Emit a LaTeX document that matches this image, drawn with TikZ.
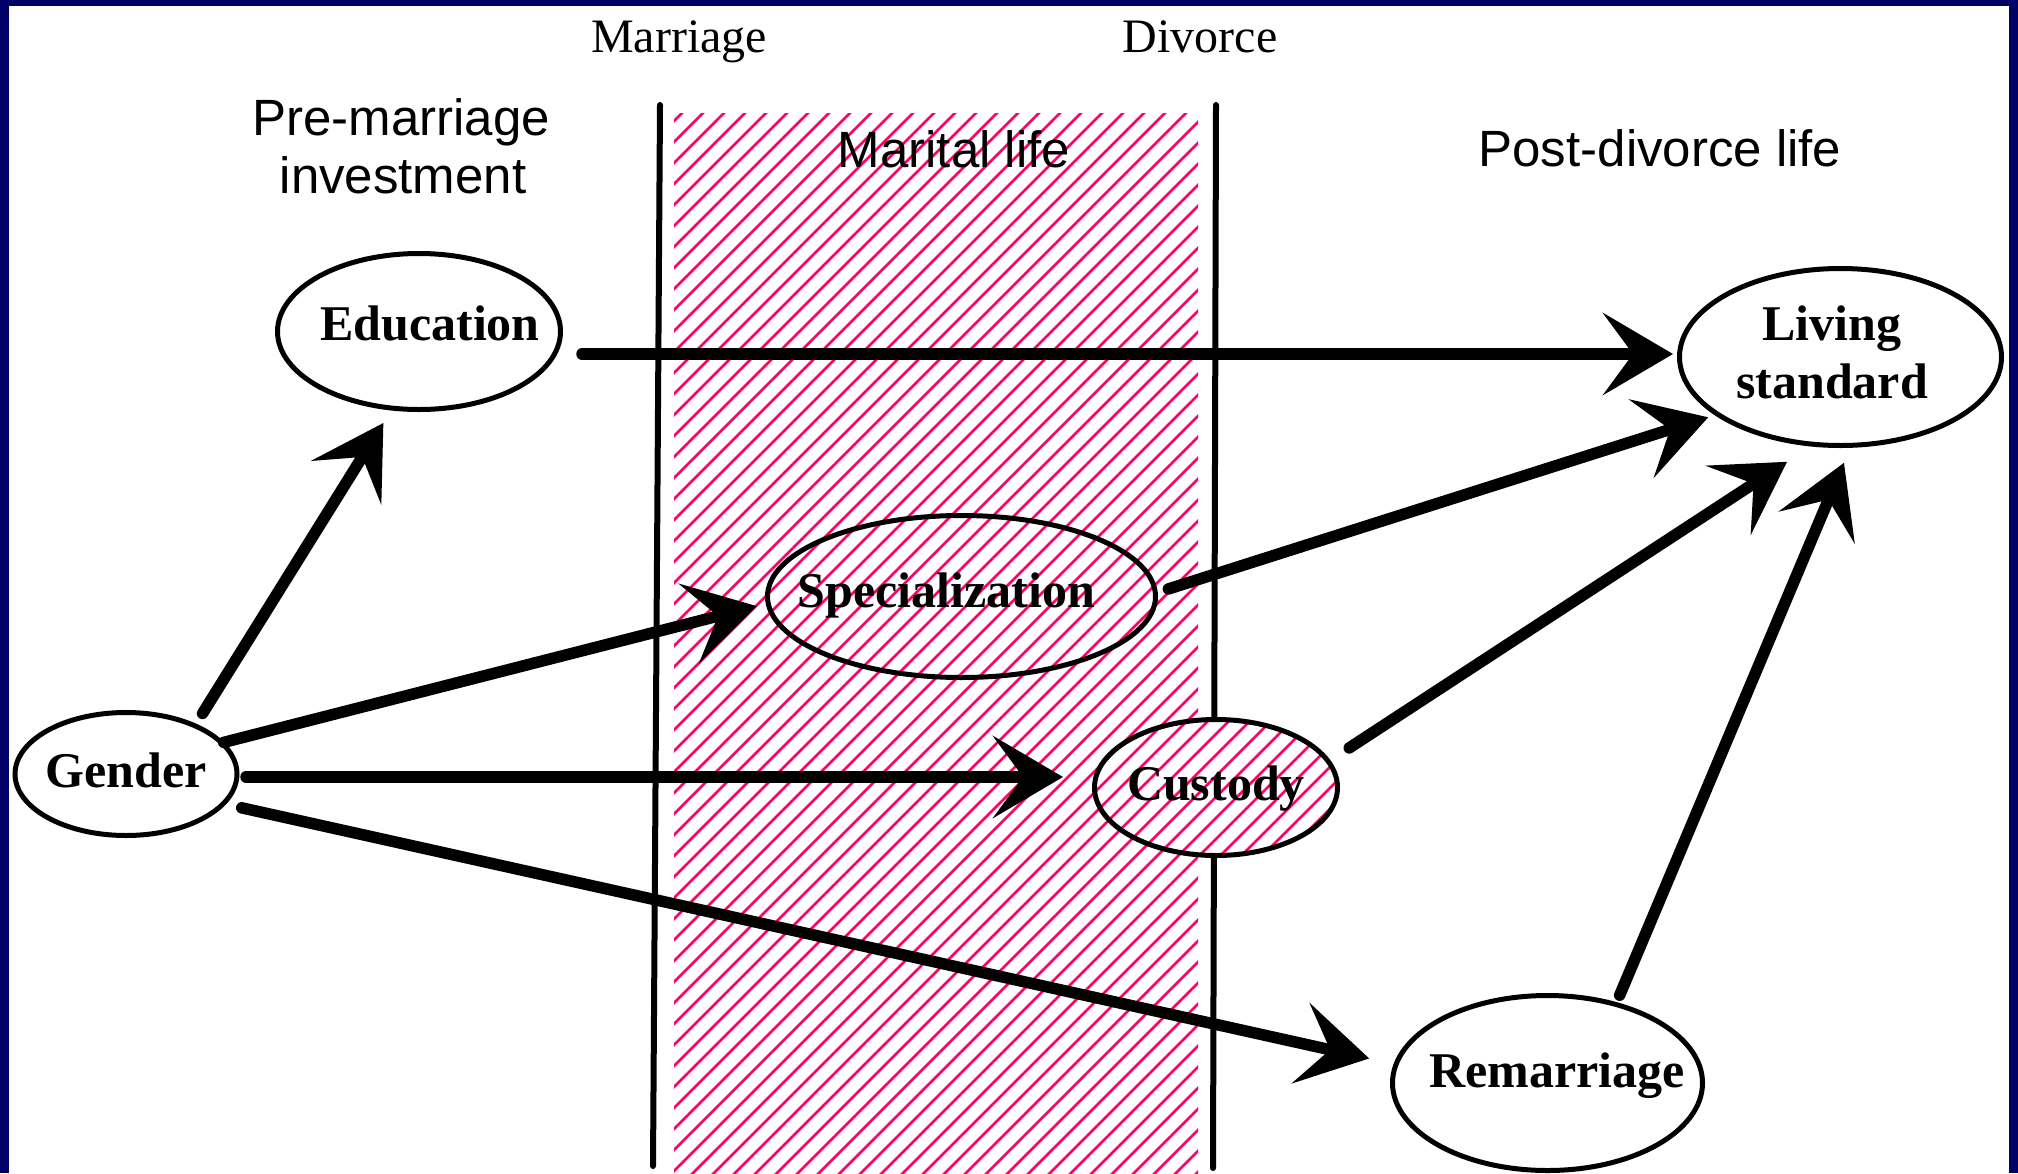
\documentclass[tikz,border=0pt]{standalone}
\usepackage{fontspec}
\setmainfont{Liberation Serif}
\setsansfont{Liberation Sans}
\usetikzlibrary{shapes.geometric,arrows.meta,patterns.meta,calc}
\definecolor{navy}{RGB}{0,0,102}
\definecolor{hatchpink}{RGB}{255,0,102}
\begin{document}
\begin{tikzpicture}[x=1pt,y=-1pt,
  ell/.style={ellipse, draw, line width=5pt, inner sep=0pt, outer sep=0pt},
  nodetxt/.style={font=\bfseries\fontsize{50}{58}\selectfont, inner sep=0pt, align=center},
  hatch/.style={pattern={Lines[angle=45,distance=14.85pt,line width=2.6pt]}, pattern color=hatchpink},
  arr/.style={line width=11.5pt, line cap=round, -{Stealth[length=70pt,width=82pt,inset=30pt]}},
  vline/.style={line width=6pt, line cap=round},
  hdr/.style={font=\sffamily\fontsize{51}{58}\selectfont, inner sep=0pt, anchor=base},
  evt/.style={font=\fontsize{48}{58}\selectfont, inner sep=0pt, anchor=base}]

\useasboundingbox (0,0) rectangle (2018,1173);
\fill[navy] (0,0) rectangle (2018,1173);
\fill[white] (9,6) rectangle (2009,1173);

% marital period band
\path[hatch] (674,113) rectangle (1198,1173);
\draw[vline] (660,105) -- (653,1166);
\draw[vline] (1216,105) -- (1213,1168);

% headings
\node[evt] (marriage) at (679,52) {Marriage};
\node[evt] (divorce) at (1200,52) {Divorce};
\node[hdr] (pre1) at (401,135) {Pre-marriage};
\node[hdr] (pre2) at (403,193) {investment};
\node[hdr] (marital) at (954,167) {Marital life};
\node[hdr] (post) at (1660,166) {Post-divorce life};

% nodes
\node[ell, fill=white, minimum width=283pt, minimum height=156pt,
  label={[nodetxt,xshift=11pt,yshift=8.5pt]center:Education}] (edu) at (419,331.5) {};
\node[ell, fill=white, minimum width=322pt, minimum height=177pt,
  label={[nodetxt,xshift=-8.5pt,yshift=5pt]center:Living\\standard}] (liv) at (1840.5,357) {};
\node[ell, minimum width=388pt, minimum height=162pt,
  label={[nodetxt,xshift=-15pt,yshift=1pt]center:Specialization}] (spec) at (961.5,596.5) {};
\node[ell, preaction={fill=white}, hatch, minimum width=243pt, minimum height=136pt,
  label={[nodetxt,yshift=-1pt]center:Custody}] (cust) at (1216,787.5) {};
\node[ell, fill=white, minimum width=222pt, minimum height=123pt,
  label={[nodetxt,yshift=4pt]center:Gender}] (gender) at (126,774) {};
\node[ell, fill=white, minimum width=310pt, minimum height=175pt,
  label={[nodetxt,xshift=9.5pt,yshift=7.5pt]center:Remarriage}] (remar) at (1547.5,1083) {};

% connectors
\draw[arr, shorten <=21.5pt, shorten >=6.5pt] ($(edu.east |- liv.west)+(0,-3)$) -- ($(liv.west)+(0,-3)$);
\draw[arr, shorten <=14.5pt, shorten >=17.5pt] (gender.35.6) -- (edu.251.5);
\draw[arr, shorten <=2pt, shorten >=11.7pt] (gender.18) -- (spec.182.25);
\draw[arr, shorten <=9pt, shorten >=31.5pt] ($(gender.east)+(0,3)$) -- ($(gender.east -| cust.west)+(0,3)$);
\draw[arr, shorten <=19pt, shorten >=27.5pt] (gender.343.2) -- (remar.173.2);
\draw[arr, shorten <=13.7pt, shorten >=10pt] (spec.1.45) -- (liv.205.5);
\draw[arr, shorten <=25pt, shorten >=32pt] (cust.13.55) -- (liv.253.8);
\draw[arr, shorten <=10pt, shorten >=19pt] (remar.49.3) -- (liv.277.7);
\end{tikzpicture}
\end{document}
